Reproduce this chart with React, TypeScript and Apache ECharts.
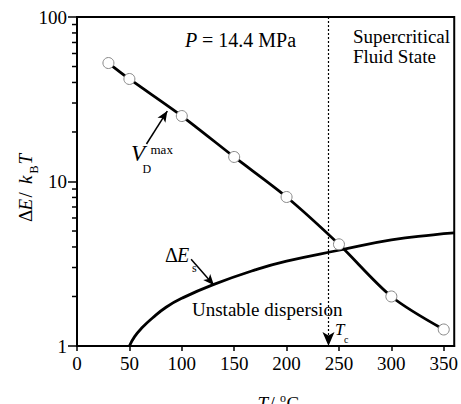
import React, { useEffect, useRef } from 'react';
import * as echarts from 'echarts';

// ---- data ----
const xTickValues = [0, 50, 100, 150, 200, 250, 300, 350];
const yMinorTicks = [2, 3, 4, 5, 6, 7, 8, 9, 20, 30, 40, 50, 60, 70, 80, 90];

// V_D^max (circles + line)
const vdTemps = [30, 50, 100, 150, 200, 250, 300, 350];
const vdValues = [52.5, 42, 25, 14.1, 8.05, 4.15, 2.0, 1.26];

// ΔE_s curve
const esTemps = [50, 55, 62, 72, 85, 100, 130, 170, 200, 250, 300, 340, 360];
const esValues = [1.0, 1.14, 1.29, 1.48, 1.72, 1.95, 2.36, 2.9, 3.28, 3.82, 4.41, 4.74, 4.87];

// critical temperature marker
const tCritical = 240;

// annotation arrows [tail, head] in data coordinates
const vdArrow = [[66.3, 16.9], [86.2, 26.8]];
const esArrow = [[108.9, 3.37], [130.7, 2.34]];

const FONT = 'Liberation Serif';

function txt(text: string, x: number, y: number, size: number, italic = false) {
  return {
    type: 'text',
    x,
    y,
    silent: true,
    style: {
      text,
      fill: '#000',
      fontSize: size,
      fontFamily: FONT,
      fontStyle: italic ? 'italic' : 'normal',
      align: 'left',
      textAlign: 'left',
      verticalAlign: 'middle',
      textVerticalAlign: 'middle',
    },
  };
}

export default function App() {
  const ref = useRef<HTMLDivElement>(null);

  useEffect(() => {
    document.body.style.margin = '0';
    if (!ref.current) return;
    const chart = echarts.init(ref.current, undefined, { renderer: 'svg' });

    const arrowLine = (pts: number[][], size: number[]) => [
      { coord: pts[0], symbol: 'none', lineStyle: { type: 'solid', width: 1.5, color: '#000' } },
      { coord: pts[1], symbol: 'arrow', symbolSize: size, lineStyle: { type: 'solid', width: 1.5, color: '#000' } },
    ];

    const option: any = {
      animation: false,
      backgroundColor: '#fff',
      grid: {
        left: 77,
        right: 3,
        top: 17,
        bottom: 58,
        show: true,
        borderColor: '#000',
        borderWidth: 2,
        backgroundColor: 'transparent',
      },
      xAxis: {
        type: 'value',
        min: 0,
        max: 360,
        interval: 50,
        axisLine: { lineStyle: { color: '#000', width: 2 } },
        axisTick: { show: true, length: 5, customValues: xTickValues, lineStyle: { color: '#000', width: 1.5 } },
        axisLabel: {
          customValues: xTickValues,
          fontSize: 19,
          fontFamily: FONT,
          color: '#000',
          margin: 17,
          verticalAlign: 'middle',
        },
        splitLine: { show: false },
      },
      yAxis: {
        type: 'log',
        logBase: 10,
        min: 1,
        max: 100,
        axisLine: { lineStyle: { color: '#000', width: 2 } },
        axisTick: { length: 9, lineStyle: { color: '#000', width: 1.5 } },
        axisLabel: { fontSize: 19, fontFamily: FONT, color: '#000', margin: 10 },
        splitLine: { show: false },
      },
      series: [
        {
          name: 'ΔEs',
          type: 'line',
          data: esTemps.map((t, i) => [t, esValues[i]]),
          smooth: 0.5,
          showSymbol: false,
          symbol: 'none',
          lineStyle: { color: '#000', width: 2.8 },
          z: 2,
          markLine: {
            silent: true,
            animation: false,
            label: { show: false },
            emphasis: { disabled: true },
            data: [
              [
                { coord: [tCritical, 100], symbol: 'none', lineStyle: { type: [2, 2], width: 1.2, color: '#000' } },
                { coord: [tCritical, 1], symbol: 'arrow', symbolSize: [9, 14], lineStyle: { type: [2, 2], width: 1.2, color: '#000' } },
              ],
              arrowLine(vdArrow, [7, 11]),
              arrowLine(esArrow, [7, 11]),
            ],
          },
        },
        {
          name: 'VDmax',
          type: 'line',
          data: vdTemps.map((t, i) => [t, vdValues[i]]),
          smooth: 0.3,
          symbol: 'circle',
          symbolSize: 11,
          itemStyle: { color: '#fff', borderColor: '#888', borderWidth: 1 },
          lineStyle: { color: '#000', width: 2.8 },
          z: 3,
        },
        {
          type: 'custom',
          coordinateSystem: 'cartesian2d',
          silent: true,
          clip: false,
          z: 10,
          data: yMinorTicks.map((v) => [0, v]),
          renderItem: (params: any, api: any) => {
            const p = api.coord([0, api.value(1)]);
            return {
              type: 'line',
              shape: { x1: p[0] - 5, y1: p[1], x2: p[0], y2: p[1] },
              style: { stroke: '#000', lineWidth: 1.5 },
            };
          },
        },
      ],
      graphic: [
        txt('P', 185, 40, 20, true),
        txt(' = 14.4 MPa', 197, 40, 20),
        txt('Supercritical', 353, 36, 19),
        txt('Fluid State', 353, 56.7, 19),
        txt('Unstable dispersion', 192, 309, 19),
        txt('Δ', 165, 255, 20),
        txt('E', 177, 255, 20, true),
        txt('s', 192, 267.6, 12),
        txt('V', 131, 153.5, 23, true),
        txt('max', 150.5, 149, 13),
        txt('D', 142.5, 169, 12),
        txt('T', 335, 329, 17, true),
        txt('c', 344, 339.5, 10),
        txt('T', 257.5, 403, 19, true),
        txt('/', 269.5, 403, 19),
        txt('o', 280, 397.5, 12),
        txt('C', 286.5, 403, 19),
        {
          type: 'group',
          x: 25,
          y: 222,
          rotation: Math.PI / 2,
          children: [
            txt('Δ', 0, 0, 19),
            txt('E', 11.5, 0, 19, true),
            txt('/', 24.5, 0, 19),
            txt('k', 38, 0, 19, true),
            txt('B', 48.5, 9, 12),
            txt('T', 57.5, 0, 19, true),
          ],
        },
      ],
    };

    chart.setOption(option);
    return () => chart.dispose();
  }, []);

  return (
    <div
      ref={ref}
      style={{ width: 461, height: 404, position: 'absolute', left: 0, top: 0 }}
    />
  );
}
